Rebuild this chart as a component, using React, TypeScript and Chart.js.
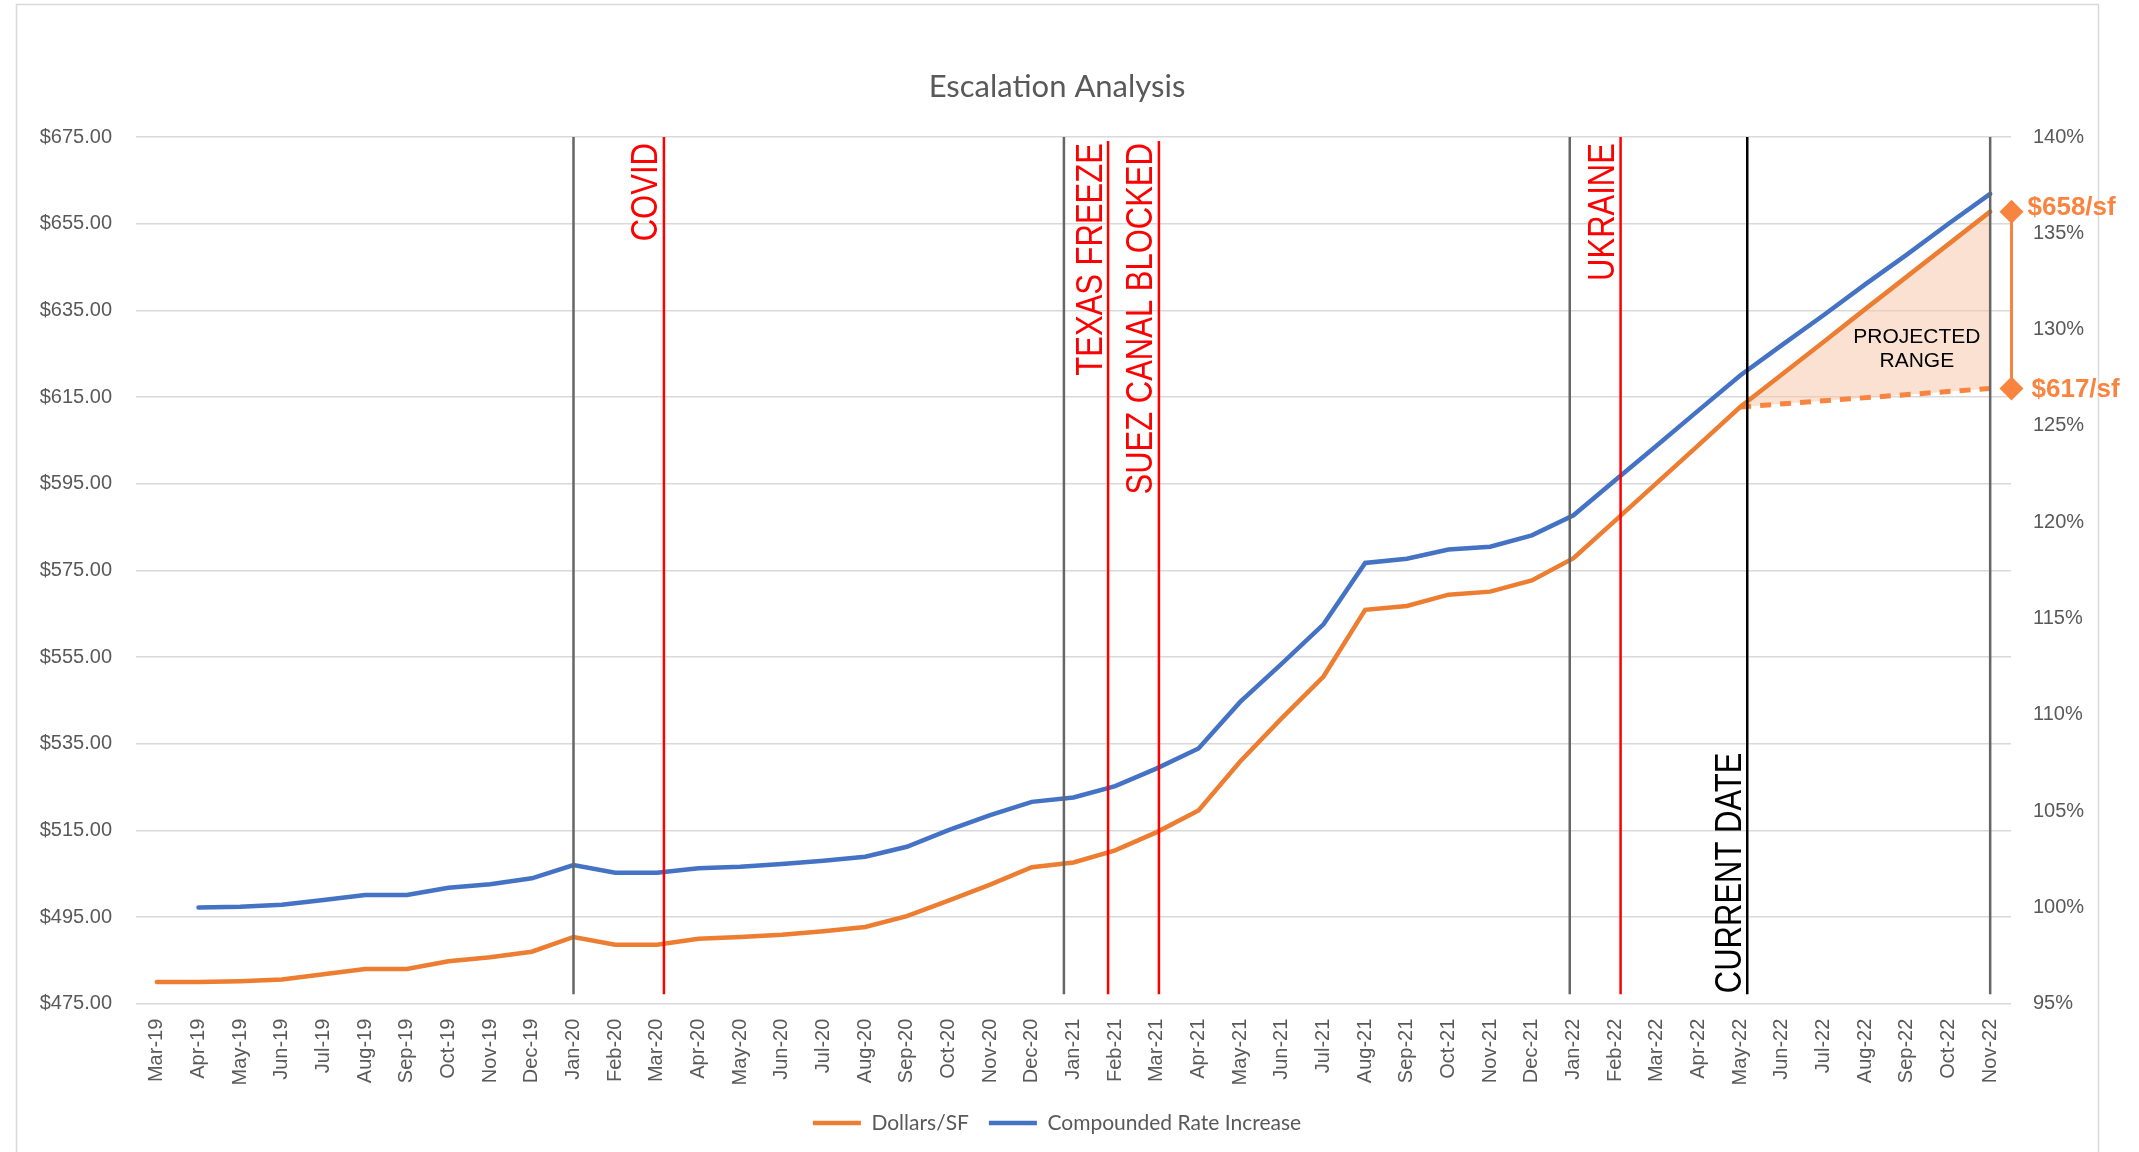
import { useEffect, useRef } from 'react';
import { Chart, registerables } from 'chart.js';

Chart.register(...registerables);

const months = [
  'Mar-19', 'Apr-19', 'May-19', 'Jun-19', 'Jul-19', 'Aug-19', 'Sep-19', 'Oct-19', 'Nov-19', 'Dec-19',
  'Jan-20', 'Feb-20', 'Mar-20', 'Apr-20', 'May-20', 'Jun-20', 'Jul-20', 'Aug-20', 'Sep-20', 'Oct-20', 'Nov-20', 'Dec-20',
  'Jan-21', 'Feb-21', 'Mar-21', 'Apr-21', 'May-21', 'Jun-21', 'Jul-21', 'Aug-21', 'Sep-21', 'Oct-21', 'Nov-21', 'Dec-21',
  'Jan-22', 'Feb-22', 'Mar-22', 'Apr-22', 'May-22', 'Jun-22', 'Jul-22', 'Aug-22', 'Sep-22', 'Oct-22', 'Nov-22',
];

const dollarsPerSF = [
  480.0, 480.0, 480.2, 480.6, 481.8, 483.0, 483.0, 484.8, 485.7, 487.0,
  490.4, 488.6, 488.6, 490.0, 490.4, 490.9, 491.7, 492.7, 495.2, 498.8, 502.5, 506.5,
  507.6, 510.4, 514.6, 519.6, 530.9, 540.9, 550.5, 565.9, 566.8, 569.4, 570.1, 572.7,
  577.8, 586.5, 595.2, 603.9, 612.7, 620.2, 627.7, 635.3, 642.8, 650.3, 657.8,
];

const compoundedRate = [
  null, 100.0, 100.03, 100.14, 100.38, 100.64, 100.64, 101.02, 101.2, 101.51,
  102.2, 101.8, 101.8, 102.03, 102.11, 102.25, 102.42, 102.63, 103.15, 104.01, 104.79, 105.48,
  105.71, 106.3, 107.22, 108.25, 110.67, 112.66, 114.7, 117.89, 118.11, 118.58, 118.73, 119.32,
  120.36, 122.18, 123.99, 125.81, 127.62, 129.2, 130.75, 132.35, 133.9, 135.5, 137.05,
];

const projectedLow = [
  null, null, null, null, null, null, null, null, null, null,
  null, null, null, null, null, null, null, null, null, null, null, null,
  null, null, null, null, null, null, null, null, null, null, null, null,
  null, null, null, null, 612.7, null, null, null, null, null, 617.0,
];

// vertical event markers (category index units)
const eventPositions = [10, 12.17, 21.77, 22.83, 24.05, 33.91, 35.13, 38.17, 44];
const eventKinds = ['gray', 'red', 'gray', 'red', 'red', 'gray', 'red', 'black', 'gray'];
const eventLabels = ['', 'COVID', '', 'TEXAS FREEZE', 'SUEZ CANAL BLOCKED', '', 'UKRAINE', 'CURRENT DATE', ''];

const rangeLabels = ['$658/sf', '$617/sf'];
const rangeValues = [dollarsPerSF[dollarsPerSF.length - 1], projectedLow[projectedLow.length - 1] as number];
const rangeTextLines = ['PROJECTED', 'RANGE'];
const rangeTextPos = { index: 42.24, value: 626.0 };

const ORANGE = '#ED7D31';
const BLUE = '#4472C4';
const PROJ = '#F8843F';
const GRAYTXT = '#595959';
const kindColor: Record<string, string> = { gray: '#666666', red: '#FF0000', black: '#000000' };

const framePlugin = {
  id: 'frame',
  beforeDraw(chart: any) {
    const { ctx, width, height } = chart;
    ctx.save();
    ctx.fillStyle = '#FFFFFF';
    ctx.fillRect(0, 0, width, height);
    ctx.strokeStyle = '#D9D9D9';
    ctx.lineWidth = 1.5;
    ctx.strokeRect(16.5, 4.5, 2082, height + 20);
    ctx.restore();
  },
};

const eventsPlugin = {
  id: 'events',
  afterDatasetsDraw(chart: any) {
    const { ctx, scales } = chart;
    const xs = scales.x;
    const ys = scales.y;
    const yTop = ys.getPixelForValue(675);
    const yBot = ys.getPixelForValue(477.2);
    ctx.save();
    eventPositions.forEach((p, i) => {
      const x = xs.getPixelForValue(p);
      const color = kindColor[eventKinds[i]];
      ctx.strokeStyle = color;
      ctx.lineWidth = 2.5;
      ctx.beginPath();
      ctx.moveTo(x, yTop + (eventKinds[i] === 'red' && i !== 1 && i !== 6 ? 4 : 0));
      ctx.lineTo(x, yBot);
      ctx.stroke();
      const label = eventLabels[i];
      if (label) {
        ctx.save();
        ctx.fillStyle = color;
        ctx.font = "31px 'Liberation Sans', Arial, sans-serif";
        const atBottom = eventKinds[i] === 'black';
        ctx.translate(x - 6.5, atBottom ? yBot - 1 : yTop + 6);
        ctx.rotate(-Math.PI / 2);
        ctx.scale(1, 1.18);
        ctx.textBaseline = 'alphabetic';
        ctx.textAlign = atBottom ? 'left' : 'right';
        ctx.fillText(label, 0, 0);
        ctx.restore();
      }
    });

    // projected range bracket
    const xr = chart.chartArea.right + 0.5;
    const yHi = ys.getPixelForValue(rangeValues[0]);
    const yLo = ys.getPixelForValue(rangeValues[1]);
    ctx.strokeStyle = PROJ;
    ctx.fillStyle = PROJ;
    ctx.lineWidth = 3;
    ctx.beginPath();
    ctx.moveTo(xr, yHi);
    ctx.lineTo(xr, yLo);
    ctx.stroke();
    [yHi, yLo].forEach((yy) => {
      ctx.beginPath();
      ctx.moveTo(xr, yy - 12);
      ctx.lineTo(xr + 12, yy);
      ctx.lineTo(xr, yy + 12);
      ctx.lineTo(xr - 12, yy);
      ctx.closePath();
      ctx.fill();
    });
    ctx.font = "bold 26px 'Liberation Sans', Arial, sans-serif";
    ctx.textAlign = 'left';
    ctx.textBaseline = 'middle';
    ctx.fillText(rangeLabels[0], xr + 16, yHi - 4);
    ctx.fillText(rangeLabels[1], xr + 20, yLo + 1);

    // projected range text
    ctx.fillStyle = '#000000';
    ctx.font = "21px 'Liberation Sans', Arial, sans-serif";
    ctx.textAlign = 'center';
    const cx = xs.getPixelForValue(rangeTextPos.index);
    const cy = ys.getPixelForValue(rangeTextPos.value);
    ctx.fillText(rangeTextLines[0], cx, cy - 12);
    ctx.fillText(rangeTextLines[1], cx, cy + 12);
    ctx.restore();
  },
};

export default function App() {
  const ref = useRef<HTMLCanvasElement | null>(null);

  useEffect(() => {
    if (!ref.current) return;
    const tickFont = { family: "'Liberation Sans', Arial, sans-serif", size: 20 };
    const chart = new Chart(ref.current, {
      type: 'line',
      data: {
        labels: months,
        datasets: [
          {
            label: 'Dollars/SF',
            data: dollarsPerSF,
            borderColor: ORANGE,
            backgroundColor: ORANGE,
            borderWidth: 4.5,
            borderCapStyle: 'round',
            pointRadius: 0,
            tension: 0,
            yAxisID: 'y',
          },
          {
            label: 'Compounded Rate Increase',
            data: compoundedRate,
            borderColor: BLUE,
            backgroundColor: BLUE,
            borderWidth: 4.5,
            borderCapStyle: 'round',
            pointRadius: 0,
            tension: 0,
            yAxisID: 'y1',
          },
          {
            label: 'Projected low',
            data: projectedLow,
            borderColor: PROJ,
            backgroundColor: 'rgba(248, 196, 165, 0.5)',
            borderWidth: 5,
            borderDash: [11, 9],
            pointRadius: 0,
            spanGaps: true,
            tension: 0,
            fill: 0,
            yAxisID: 'y',
          },
        ] as any,
      },
      options: {
        responsive: false,
        animation: false,
        devicePixelRatio: 1,
        layout: { padding: { left: 20, right: 45, top: 0, bottom: 8.5 } },
        plugins: {
          title: {
            display: true,
            text: 'Escalation Analysis',
            color: GRAYTXT,
            font: { family: 'Lato, sans-serif', size: 31, weight: 'normal' },
            padding: { top: 68.4, bottom: 31.5 },
          },
          legend: {
            position: 'bottom',
            labels: {
              usePointStyle: true,
              pointStyle: 'line',
              pointStyleWidth: 48,
              color: GRAYTXT,
              font: { family: 'Lato, sans-serif', size: 21 },
              padding: 20,
              filter: (item: any) => item.datasetIndex < 2,
            },
          },
          tooltip: { enabled: false },
        },
        scales: {
          x: {
            offset: true,
            grid: { display: false },
            border: { display: false },
            ticks: {
              autoSkip: false,
              maxRotation: 90,
              minRotation: 90,
              padding: 7,
              color: GRAYTXT,
              font: tickFont,
            },
            afterFit: (s: any) => {
              s.height = 88.8;
            },
          },
          y: {
            position: 'left',
            min: 475,
            max: 675,
            ticks: {
              stepSize: 20,
              padding: 24,
              color: GRAYTXT,
              font: tickFont,
              callback: (v: any) => '$' + Number(v).toFixed(2),
            },
            grid: { color: '#D9D9D9', lineWidth: 1.5, drawTicks: false },
            border: { display: false },
            afterFit: (s: any) => {
              s.width = 116;
            },
          },
          y1: {
            position: 'right',
            min: 95,
            max: 140,
            ticks: {
              stepSize: 5,
              padding: 22,
              color: GRAYTXT,
              font: tickFont,
              callback: (v: any) => v + '%',
            },
            grid: { display: false, drawTicks: false },
            border: { display: false },
            afterFit: (s: any) => {
              s.width = 83;
            },
          },
        },
      } as any,
      plugins: [framePlugin, eventsPlugin],
    });
    return () => chart.destroy();
  }, []);

  return (
    <div style={{ position: 'absolute', left: 0, top: 0, width: 2139, height: 1152 }}>
      <canvas ref={ref} width={2139} height={1152} style={{ display: 'block', width: 2139, height: 1152 }} />
    </div>
  );
}
